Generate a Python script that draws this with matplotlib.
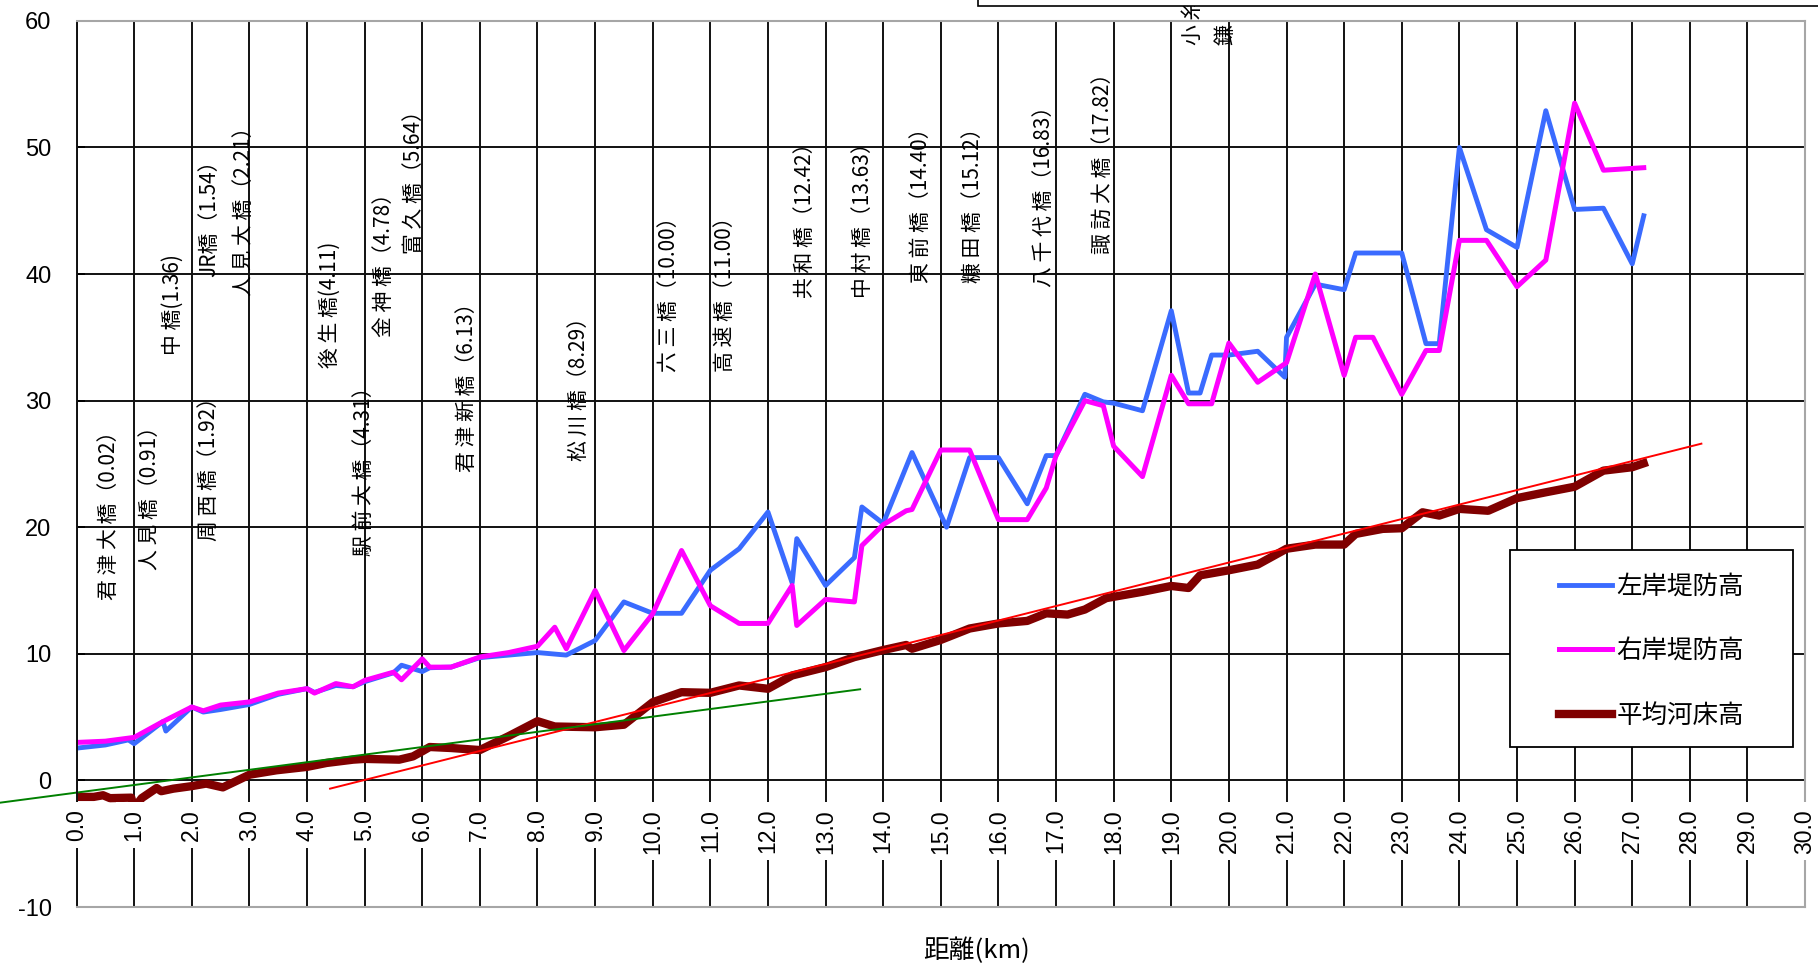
import numpy as np
import matplotlib
matplotlib.use("Agg")
import matplotlib.pyplot as plt
from matplotlib.patches import Rectangle

plt.rcParams['font.family'] = ['Noto Sans CJK JP', 'DejaVu Sans']
plt.rcParams['axes.unicode_minus'] = False

# 左岸堤防高 (km, m)
left_km = [0.0, 0.5, 0.9, 1.0, 1.5, 1.55, 2.0, 2.2, 2.5, 3.0, 3.5, 4.0, 4.13, 4.5, 4.8,
           5.0, 5.5, 5.64, 6.0, 6.13, 6.5, 7.0, 7.5, 8.0, 8.5, 9.0, 9.5, 10.0, 10.5,
           11.0, 11.5, 12.0, 12.42, 12.5, 13.0, 13.5, 13.63, 14.0, 14.5, 15.1, 15.5,
           16.0, 16.5, 16.83, 17.0, 17.5, 17.82, 18.0, 18.5, 19.0, 19.3, 19.5, 19.7,
           20.0, 20.5, 20.97, 21.0, 21.5, 22.0, 22.2, 23.0, 23.42, 23.65, 24.0, 24.47,
           25.0, 25.5, 26.0, 26.5, 27.0, 27.2]
left_el = [2.55, 2.8, 3.2, 2.9, 4.65, 3.9, 5.8, 5.4, 5.6, 6.0, 6.8, 7.25, 6.95, 7.5, 7.4,
           7.8, 8.5, 9.1, 8.6, 8.9, 8.95, 9.7, 9.9, 10.1, 9.9, 11.05, 14.1, 13.2, 13.2,
           16.6, 18.3, 21.2, 15.6, 19.1, 15.4, 17.6, 21.6, 20.3, 25.9, 20.0, 25.5,
           25.5, 21.85, 25.66, 25.66, 30.5, 29.9, 29.8, 29.2, 37.1, 30.6, 30.6, 33.6,
           33.6, 33.9, 31.85, 35.0, 39.2, 38.76, 41.66, 41.66, 34.5, 34.5, 50.0, 43.5,
           42.1, 52.9, 45.1, 45.2, 40.8, 44.6]

# 右岸堤防高
right_km = [0.0, 0.5, 1.0, 1.5, 2.0, 2.2, 2.5, 3.0, 3.5, 4.0, 4.13, 4.5, 4.8, 5.0, 5.5,
            5.64, 6.0, 6.13, 6.5, 7.0, 7.5, 8.0, 8.3, 8.5, 9.0, 9.5, 10.0, 10.5, 11.0,
            11.5, 12.0, 12.42, 12.5, 13.0, 13.5, 13.63, 14.0, 14.4, 14.5, 15.0, 15.5,
            16.0, 16.5, 16.83, 17.0, 17.5, 17.82, 18.0, 18.5, 19.0, 19.3, 19.7, 20.0,
            20.5, 21.0, 21.5, 22.0, 22.2, 22.5, 23.0, 23.42, 23.65, 24.0, 24.47, 25.0,
            25.5, 26.0, 26.5, 27.2]
right_el = [3.0, 3.1, 3.4, 4.65, 5.8, 5.5, 5.95, 6.2, 6.9, 7.25, 6.9, 7.65, 7.4, 7.9, 8.55,
            7.95, 9.6, 8.95, 8.95, 9.75, 10.1, 10.6, 12.1, 10.4, 15.0, 10.26, 13.16, 18.16,
            13.8, 12.4, 12.4, 15.4, 12.24, 14.3, 14.1, 18.55, 20.2, 21.3, 21.4, 26.1, 26.1,
            20.6, 20.6, 23.1, 25.66, 30.0, 29.6, 26.4, 24.0, 32.0, 29.75, 29.75, 34.55,
            31.45, 33.0, 40.0, 32.0, 35.0, 35.0, 30.5, 33.96, 33.96, 42.66, 42.66, 39.0,
            41.1, 53.5, 48.2, 48.4]

# 平均河床高
bed_km = [0.0, 0.3, 0.46, 0.58, 0.95, 1.0, 1.13, 1.39, 1.47, 1.68, 2.0, 2.25, 2.54, 3.0,
          3.47, 4.0, 4.34, 4.8, 5.0, 5.6, 5.84, 6.0, 6.13, 6.5, 7.0, 7.5, 8.0, 8.3, 9.0,
          9.5, 10.0, 10.5, 11.0, 11.5, 12.0, 12.42, 13.0, 13.5, 14.0, 14.4, 14.5, 15.0,
          15.5, 16.0, 16.5, 16.83, 17.2, 17.5, 17.87, 18.5, 19.0, 19.3, 19.5, 20.0, 20.5,
          21.0, 21.5, 22.0, 22.2, 22.67, 23.0, 23.36, 23.65, 24.0, 24.5, 25.0, 25.5, 26.0,
          26.5, 27.0, 27.2]
bed_el = [-1.3, -1.3, -1.17, -1.4, -1.36, -2.2, -1.4, -0.6, -0.85, -0.65, -0.45, -0.25,
          -0.55, 0.45, 0.8, 1.07, 1.38, 1.64, 1.7, 1.64, 1.9, 2.3, 2.64, 2.56, 2.4, 3.5,
          4.68, 4.26, 4.2, 4.4, 6.18, 6.97, 6.92, 7.5, 7.24, 8.29, 8.95, 9.74, 10.3, 10.7,
          10.4, 11.1, 12.0, 12.4, 12.6, 13.2, 13.1, 13.5, 14.4, 14.9, 15.36, 15.2, 16.2,
          16.6, 17.05, 18.3, 18.63, 18.63, 19.47, 19.87, 19.92, 21.18, 20.92, 21.45, 21.3,
          22.3, 22.76, 23.2, 24.47, 24.74, 25.05]

# 河床勾配の目安線
red_km = [4.4, 28.2]
red_el = [-0.65, 26.6]
green_km = [-1.33, 13.6]
green_el = [-1.76, 7.2]

bridge_names = ['君津大橋（0.02）', '人見橋（0.91）', '中橋(1.36)', 'JR橋（1.54）',
                '人見大橋（2.21）', '周西橋（1.92）', '後生橋(4.11)', '駅前大橋（4.31）',
                '金神橋（4.78）', '富久橋（5.64）', '君津新橋（6.13）', '松川橋（8.29）',
                '六三橋（10.00）', '高速橋（11.00）', '共和橋（12.42）', '中村橋（13.63）',
                '東前橋（14.40）', '糠田橋（15.12）', '八千代橋（16.83）', '諏訪大橋（17.82）',
                '小糸', '鎌']
# where each bridge name sits (x centre, bottom of text)
name_x = [0.56, 1.27, 1.67, 2.30, 2.91, 2.30, 4.40, 4.99, 5.34, 5.86, 6.77, 8.74,
          10.29, 11.26, 12.64, 13.65, 14.66, 15.56, 16.79, 17.81, 19.37, 19.95]
name_y = [14.25, 16.6, 33.6, 39.8, 38.3, 18.9, 32.6, 17.7, 35.05, 41.6, 24.4, 25.2,
          32.3, 32.3, 38.1, 38.1, 39.3, 39.3, 39.0, 41.6, 58.1, 58.1]

x_ticks = np.arange(0, 31, 1)
y_ticks = np.arange(-10, 61, 10)


def spaced(s):
    # open up the kanji a little, like the vertical labels in the sheet
    out = ''
    for a, b in zip(s, s[1:] + ' '):
        out += a
        if '\u4e00' <= a <= '\u9fff' and '\u4e00' <= b <= '\u9fff':
            out += ' '
    return out


fig = plt.figure(figsize=(18.18, 9.64), dpi=100)
ax = fig.add_axes([0.0421, 0.0591, 0.9508, 0.9193])
ax.set_xlim(0, 30)
ax.set_ylim(-10, 60)

# grid
grid_kw = dict(color='#111111', lw=1.4, zorder=1)
ax.vlines(x_ticks[:-1], 0, 60, **grid_kw)
ax.vlines(x_ticks, -10, 0, **grid_kw)
ax.hlines(y_ticks[1:-1], 0, 30, **grid_kw)

for side in ['top', 'right', 'bottom']:
    ax.spines[side].set_color('#a6a6a6')
    ax.spines[side].set_linewidth(1.5)
ax.spines['left'].set_color('#111111')
ax.spines['left'].set_linewidth(1.4)

ax.set_xticks([])
ax.set_yticks(y_ticks)
ax.tick_params(axis='y', direction='in', length=6, width=1.4, pad=18, labelsize=17)
for t in ax.get_yticklabels():
    t.set_fontfamily('Liberation Sans')

# km labels sit under the zero line on white boxes
for v in x_ticks:
    ax.text(v, -2.25, f'{v:.1f}', rotation=90, ha='center', va='top', fontsize=16.5,
            family='Liberation Sans', zorder=6,
            bbox=dict(facecolor='white', edgecolor='none', pad=5))

l1, = ax.plot(left_km, left_el, color='#3a6bff', lw=3.5, label='左岸堤防高', zorder=2)
l2, = ax.plot(right_km, right_el, color='#ff00ff', lw=3.6, label='右岸堤防高', zorder=2.1)
l3, = ax.plot(bed_km, bed_el, color='#800000', lw=6.0, label='平均河床高', zorder=2.2)
ax.plot(red_km, red_el, color='#ff0000', lw=1.4, zorder=2.3, clip_on=False)
ax.plot(green_km, green_el, color='#008000', lw=1.4, zorder=2.3, clip_on=False)

for name, x, y in zip(bridge_names, name_x, name_y):
    ax.text(x, y, spaced(name), rotation=90, ha='center', va='bottom', fontsize=15,
            color='black', clip_on=False, zorder=3)

ax.set_xlabel('距離(km)', fontsize=18.5)
ax.xaxis.set_label_coords(0.5204, -0.034)

# legend box
ax.add_patch(Rectangle((0.8306, 0.2251), 0.1557, 0.2044, transform=fig.transFigure,
                       facecolor='white', edgecolor='black', lw=1.3, zorder=4,
                       clip_on=False))
ax.legend(handles=[l1, l2, l3], loc='upper left', bbox_to_anchor=(0.8575, 0.4046),
          bbox_transform=fig.transFigure, frameon=False, prop={'size': 18.4},
          handlelength=2.07, handletextpad=0.18, labelspacing=1.5, borderpad=0,
          borderaxespad=0)

# edge of the title box above the chart
fig.add_artist(Rectangle((0.5377, 0.9941), 0.47, 0.02, transform=fig.transFigure,
                         facecolor='white', edgecolor='black', lw=1.2, zorder=3))

fig.savefig('out.png', dpi=100)
